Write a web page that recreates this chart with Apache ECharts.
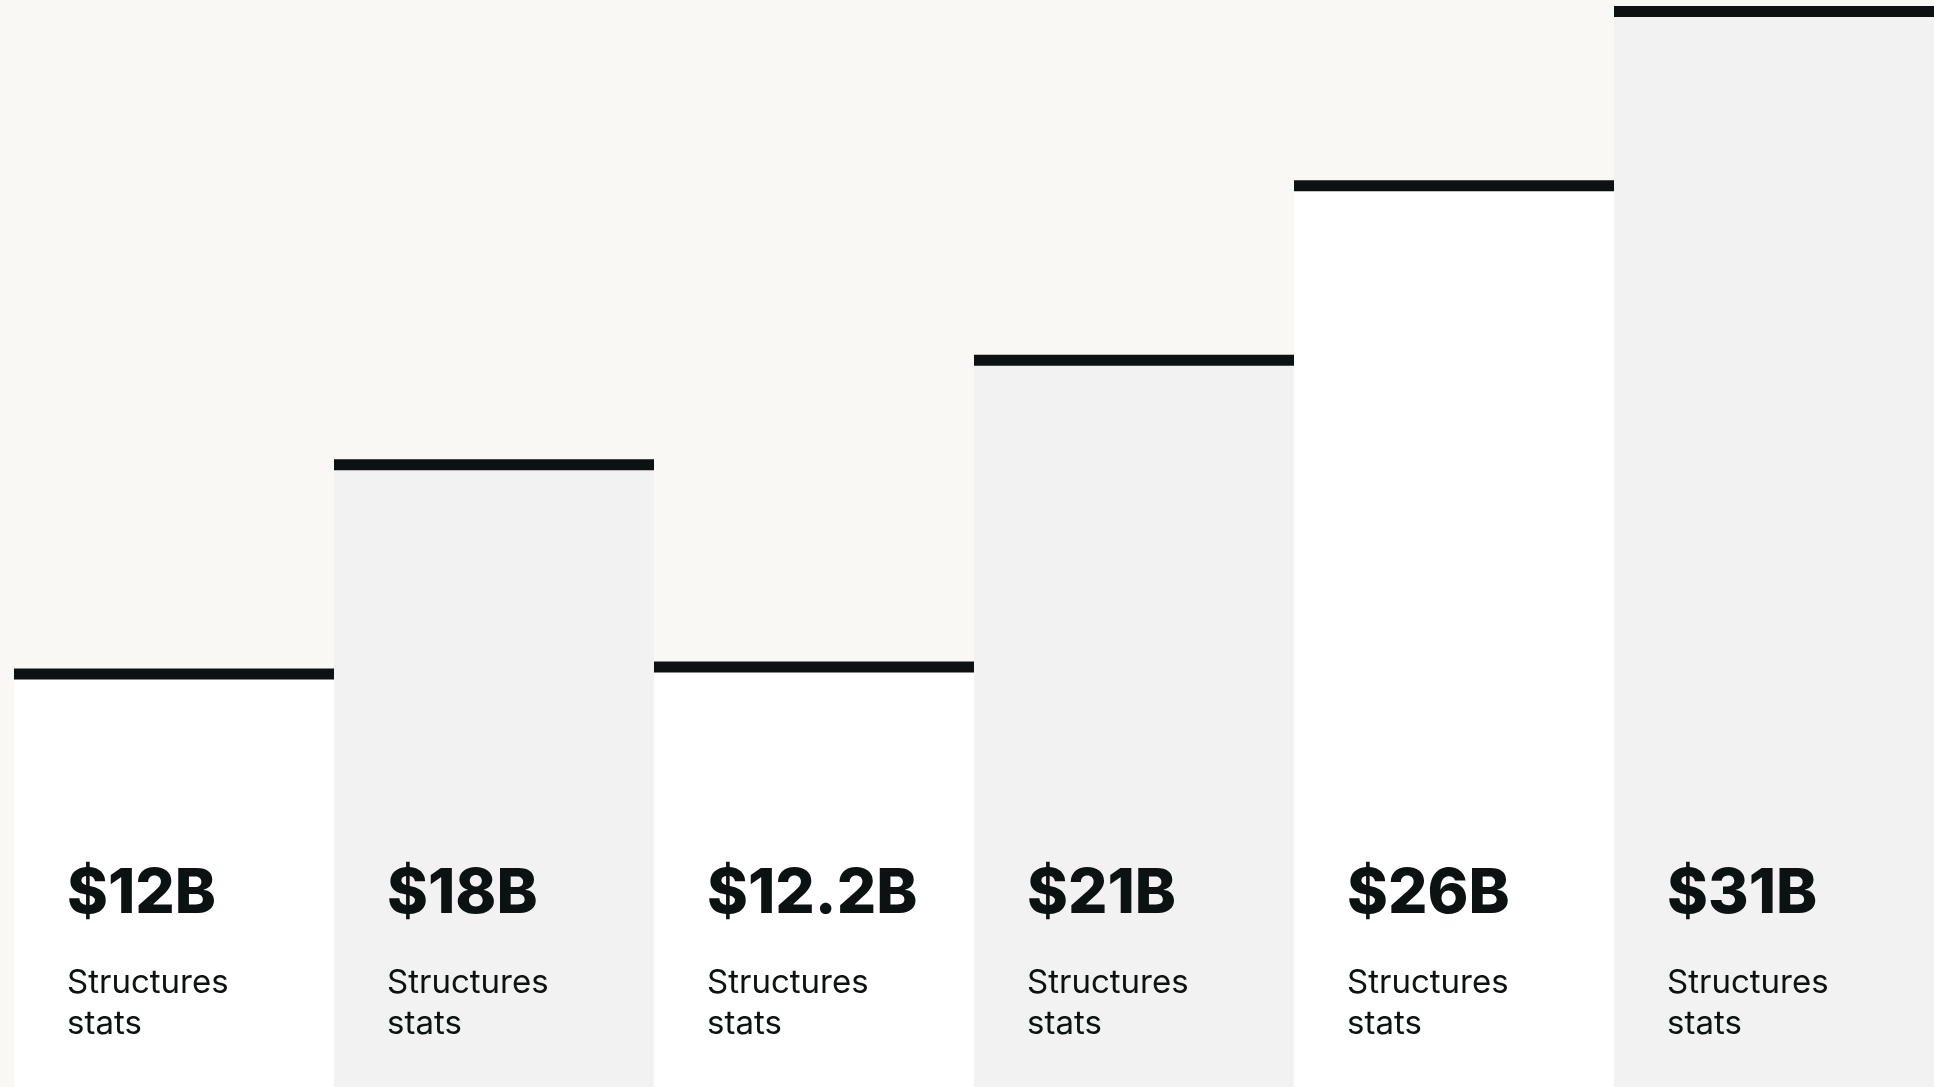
<!DOCTYPE html>
<html>
<head>
<meta charset="utf-8">
<title>Structures stats</title>
<script src="https://cdn.jsdelivr.net/npm/echarts@6/dist/echarts.min.js"></script>
<style>
  html, body { margin: 0; padding: 0; background: #f9f8f5; }
  #chart { width: 1934px; height: 1087px; }
</style>
</head>
<body>
<div id="chart"></div>
<script>
// Values in billions of dollars, one per column
const categories = ['A', 'B', 'C', 'D', 'E', 'F'];
const values = [12, 18, 12.2, 21, 26, 31];
const captions = ['Structures\nstats', 'Structures\nstats', 'Structures\nstats',
                  'Structures\nstats', 'Structures\nstats', 'Structures\nstats'];
const fills = ['#ffffff', '#f2f2f2', '#ffffff', '#f2f2f2', '#ffffff', '#f2f2f2'];

const ink = '#0c1211';
const chart = echarts.init(document.getElementById('chart'));

chart.setOption({
  backgroundColor: '#f9f8f5',
  animation: false,
  grid: { left: 14, right: 0, top: 6, bottom: 0 },
  xAxis: {
    type: 'category',
    data: categories,
    show: false
  },
  yAxis: {
    type: 'value',
    min: 0,
    max: 31,
    show: false
  },
  series: [
    {
      type: 'bar',
      barCategoryGap: 0,
      barGap: '-100%',
      data: values.map((v, i) => ({ value: v, itemStyle: { color: fills[i] } })),
      label: {
        show: true,
        position: 'insideBottomLeft',
        distance: 0,
        offset: [53, -42],
        formatter: (p) => {
          const lines = captions[p.dataIndex].split('\n').map(t => '{s|' + t + '}');
          return '{v|$' + p.value + 'B}\n' + lines.join('\n');
        },
        rich: {
          v: { fontFamily: 'Inter', fontWeight: 800, fontSize: 62, lineHeight: 138, color: ink },
          s: { fontFamily: 'Inter', fontWeight: 400, fontSize: 33, lineHeight: 41, color: ink }
        }
      },
      z: 2
    },
    {
      // dark cap on top of each column
      type: 'pictorialBar',
      symbol: 'rect',
      symbolPosition: 'end',
      symbolSize: ['100%', 11],
      barGap: '-100%',
      barCategoryGap: 0,
      itemStyle: { color: ink },
      data: values,
      z: 3
    }
  ]
});
</script>
</body>
</html>
